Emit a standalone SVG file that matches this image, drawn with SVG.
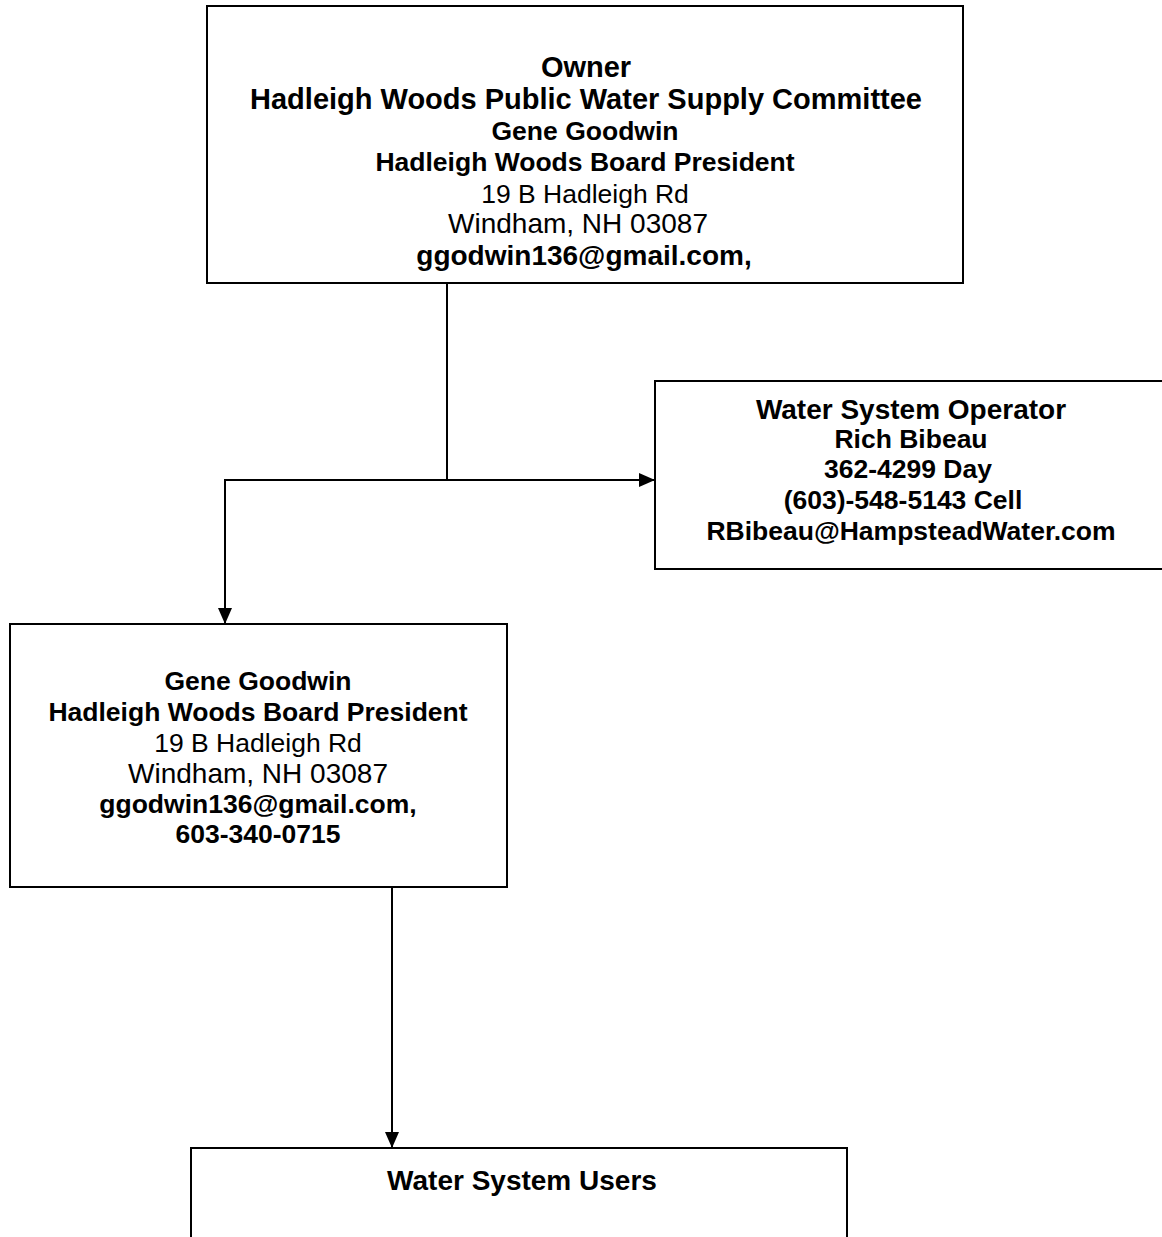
<svg xmlns="http://www.w3.org/2000/svg" width="1162" height="1237" viewBox="0 0 1162 1237">
<defs>
<style>
.box{fill:#fff;stroke:#000;stroke-width:2}
.t{font-family:"Liberation Sans",Arial,sans-serif;font-size:26.5px;fill:#000;text-anchor:middle}
.b{font-weight:bold}
.l{font-size:29px}
.m{font-size:28px}
.c{fill:none;stroke:#000;stroke-width:2}
</style>
<marker id="ah" viewBox="0 0 16 14" refX="16" refY="7" markerWidth="16" markerHeight="14" markerUnits="userSpaceOnUse" orient="auto">
<path d="M0,0 L16,7 L0,14 Z" fill="#000"/>
</marker>
</defs>
<rect width="1162" height="1237" fill="#fff"/>
<g id="connectors">
<line class="c" x1="447" y1="283" x2="447" y2="480"/>
<line class="c" x1="447" y1="480" x2="655" y2="480" marker-end="url(#ah)"/>
<polyline class="c" points="447,480 225,480 225,624" marker-end="url(#ah)"/>
<line class="c" x1="392" y1="887" x2="392" y2="1148" marker-end="url(#ah)"/>
</g>
<g id="owner">
<rect class="box" x="207" y="6" width="756" height="277"/>
<text class="t b l" x="586" y="77">Owner</text>
<text class="t b l" x="586" y="109">Hadleigh Woods Public Water Supply Committee</text>
<text class="t b" x="585" y="140">Gene Goodwin</text>
<text class="t b" x="585" y="171">Hadleigh Woods Board President</text>
<text class="t" x="585" y="203">19 B Hadleigh Rd</text>
<text class="t m" x="578" y="233">Windham, NH 03087</text>
<text class="t b m" x="584" y="265">ggodwin136@gmail.com,</text>
</g>
<g id="operator">
<rect class="box" x="655" y="381" width="512" height="188"/>
<text class="t b m" x="911" y="419">Water System Operator</text>
<text class="t b" x="911" y="448">Rich Bibeau</text>
<text class="t b" x="908" y="478">362-4299 Day</text>
<text class="t b" x="903" y="509">(603)-548-5143 Cell</text>
<text class="t b" x="911" y="540">RBibeau@HampsteadWater.com</text>
</g>
<g id="president">
<rect class="box" x="10" y="624" width="497" height="263"/>
<text class="t b" x="258" y="690">Gene Goodwin</text>
<text class="t b" x="258" y="721">Hadleigh Woods Board President</text>
<text class="t" x="258" y="752">19 B Hadleigh Rd</text>
<text class="t m" x="258" y="783">Windham, NH 03087</text>
<text class="t b" x="258" y="813">ggodwin136@gmail.com,</text>
<text class="t b" x="258" y="843">603-340-0715</text>
</g>
<g id="users">
<rect class="box" x="191" y="1148" width="656" height="120"/>
<text class="t b m" x="522" y="1190">Water System Users</text>
</g>
</svg>
